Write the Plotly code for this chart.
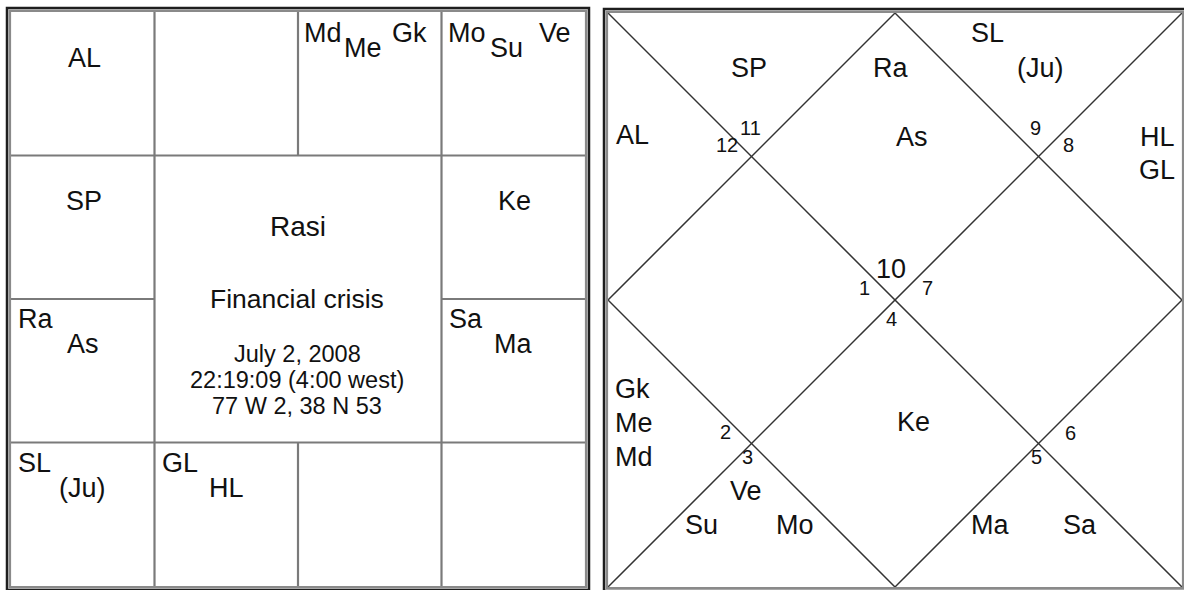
import plotly.graph_objects as go

# ---------------- data ----------------
# South-Indian (sign based) chart: labels listed per sign, in drawing order
south_labels = {
    12: ["AL"], 1: [], 2: ["Md", "Me", "Gk"], 3: ["Mo", "Su", "Ve"],
    11: ["SP"], 4: ["Ke"],
    10: ["Ra", "As"], 5: ["Sa", "Ma"],
    9: ["SL", "(Ju)"], 8: ["GL", "HL"], 7: [], 6: [],
}
# North-Indian (house based) chart: labels per sign, in drawing order
north_labels = {
    10: ["Ra", "As"], 11: ["SP"], 12: ["AL"], 1: [], 2: ["Gk", "Me", "Md"],
    3: ["Ve", "Su", "Mo"], 4: ["Ke"], 5: ["Ma", "Sa"], 6: [], 7: [],
    8: ["HL", "GL"], 9: ["SL", "(Ju)"],
}
ascendant_sign = 10
chart_name = "Rasi"
event_name = "Financial crisis"
event_lines = ["July 2, 2008", "22:19:09 (4:00 west)", "77 W 2, 38 N 53"]

# ---------------- layout / style ----------------
W, H = 1184, 590
FONT = "Liberation Sans, Arial, sans-serif"
TXT = "#111111"
LBL = 27

S1 = dict(x0=11, y0=12, size=574)   # south chart box
S2 = dict(x0=608, y0=13, size=574)  # north chart box

# cell (col,row) of each sign in south chart
south_cell = {12: (0, 0), 1: (1, 0), 2: (2, 0), 3: (3, 0), 4: (3, 1), 5: (3, 2),
              6: (3, 3), 7: (2, 3), 8: (1, 3), 9: (0, 3), 10: (0, 2), 11: (0, 1)}
# slot patterns (fractions of a cell) by number of labels
south_slots = {
    1: [(0.51, 0.32, "center")],
    2: [(0.035, 0.14, "left"), (0.50, 0.315, "center")],
    3: [(0.028, 0.146, "left"), (0.453, 0.25, "center"), (0.913, 0.146, "right")],
}
# north chart slots (in units of a 574 px chart) per house position 1..12
U = 574.0
north_slots = {
    1: [(282, 55, "center"), (304, 124, "center")],
    2: [(141, 55, "center")],
    3: [(6, 122, "left")],
    4: [(80, 280, "center")],
    5: [(5, 376, "left"), (5, 410, "left"), (5, 444, "left")],
    6: [(138, 478, "center"), (93, 512, "center"), (187, 512, "center")],
    7: [(305, 409, "center")],
    8: [(382, 512, "center"), (472, 512, "center")],
    9: [(520, 420, "center")],
    10: [(500, 280, "center")],
    11: [(549, 124, "center"), (549, 157, "center")],
    12: [(379, 20, "center"), (432, 55, "center")],
}
north_num_pos = {1: (283, 256), 2: (142, 115), 3: (119, 132), 4: (256, 274.5),
                 5: (117, 418.5), 6: (139.5, 443.5), 7: (283, 306), 8: (428, 444),
                 9: (462, 420), 10: (319.5, 274.5), 11: (460, 132), 12: (427, 115)}

fig = go.Figure()
shapes = []
annos = []


def line(x0, y0, x1, y1, color, width):
    shapes.append(dict(type="line", xref="x", yref="y", x0=x0, y0=y0, x1=x1, y1=y1,
                       line=dict(color=color, width=width)))


def border(b):
    x0, y0, s = b["x0"], b["y0"], b["size"]
    shapes.append(dict(type="rect", xref="x", yref="y", x0=x0 - 4, y0=y0 - 4,
                       x1=x0 + s + 4, y1=y0 + s + 4, line=dict(color="#1e1e1e", width=2.5)))
    shapes.append(dict(type="rect", xref="x", yref="y", x0=x0 - 1.2, y0=y0 - 1.2,
                       x1=x0 + s + 1.2, y1=y0 + s + 1.2, line=dict(color="#8a8a8a", width=2.6)))


def text(x, y, t, size=LBL, anchor="center"):
    annos.append(dict(x=x, y=y, xref="x", yref="y", text=t, showarrow=False,
                      xanchor=anchor, yanchor="middle",
                      font=dict(family=FONT, size=size, color=TXT)))


# ---- south chart ----
x0, y0, s = S1["x0"], S1["y0"], S1["size"]
c = s / 4
GRID = "#7a7a7a"
for k in range(1, 4):
    if k == 2:
        line(x0 + k * c, y0, x0 + k * c, y0 + c, GRID, 2.2)
        line(x0 + k * c, y0 + 3 * c, x0 + k * c, y0 + s, GRID, 2.2)
        line(x0, y0 + k * c, x0 + c, y0 + k * c, GRID, 2.2)
        line(x0 + 3 * c, y0 + k * c, x0 + s, y0 + k * c, GRID, 2.2)
    else:
        line(x0 + k * c, y0, x0 + k * c, y0 + s, GRID, 2.2)
        line(x0, y0 + k * c, x0 + s, y0 + k * c, GRID, 2.2)
border(S1)

for sign, labels in south_labels.items():
    if not labels:
        continue
    col, row = south_cell[sign]
    for lab, (fx, fy, anc) in zip(labels, south_slots[len(labels)]):
        text(x0 + col * c + fx * c, y0 + row * c + fy * c, lab, anchor=anc)

cx = x0 + s / 2
text(cx, y0 + 0.373 * s, chart_name, size=28)
text(cx - 1, y0 + 0.50 * s, event_name, size=26.5)
for i, ln in enumerate(event_lines):
    text(cx - 1, y0 + 0.595 * s + i * 26, ln, size=23.5)

# ---- north chart ----
X0, Y0, S = S2["x0"], S2["y0"], S2["size"]
k = S / U
DIAG = "#333333"
line(X0, Y0, X0 + S, Y0 + S, DIAG, 1.5)
line(X0 + S, Y0, X0, Y0 + S, DIAG, 1.5)
line(X0 + S / 2, Y0, X0 + S, Y0 + S / 2, DIAG, 1.5)
line(X0 + S, Y0 + S / 2, X0 + S / 2, Y0 + S, DIAG, 1.5)
line(X0 + S / 2, Y0 + S, X0, Y0 + S / 2, DIAG, 1.5)
line(X0, Y0 + S / 2, X0 + S / 2, Y0, DIAG, 1.5)
border(S2)

for house in range(1, 13):
    sign = (ascendant_sign + house - 2) % 12 + 1
    nx, ny = north_num_pos[house]
    text(X0 + nx * k, Y0 + ny * k, str(sign), size=27 if house == 1 else 20)
    labels = north_labels[sign]
    for lab, (px, py, anc) in zip(labels, north_slots[house]):
        text(X0 + px * k, Y0 + py * k, lab, anchor=anc)

fig.update_layout(
    width=W, height=H, autosize=False,
    margin=dict(l=0, r=0, t=0, b=0),
    paper_bgcolor="white", plot_bgcolor="white",
    xaxis=dict(range=[0, W], visible=False, fixedrange=True),
    yaxis=dict(range=[H, 0], visible=False, fixedrange=True),
    shapes=shapes, annotations=annos, showlegend=False,
)
fig.write_html(
    "out.html",
    config={"displayModeBar": False},
    post_script="document.body.style.margin='0';document.body.style.overflow='hidden';",
)
